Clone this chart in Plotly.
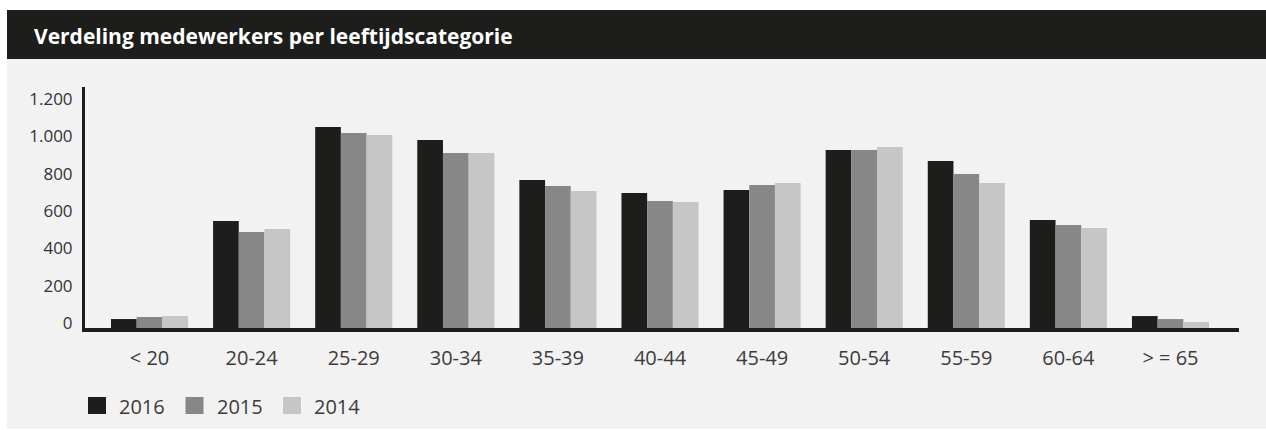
import plotly.graph_objects as go

# Age categories and headcount per year
categories = ["< 20", "20-24", "25-29", "30-34", "35-39", "40-44",
              "45-49", "50-54", "55-59", "60-64", "> = 65"]
years = ["2016", "2015", "2014"]
values_2016 = [48, 573, 1077, 1007, 793, 723, 739, 953, 894, 578, 64]
values_2015 = [59, 514, 1044, 937, 761, 680, 766, 953, 825, 552, 48]
values_2014 = [64, 530, 1034, 937, 734, 675, 777, 969, 777, 536, 32]
y_ticks = [0, 200, 400, 600, 800, 1000, 1200]

series = [values_2016, values_2015, values_2014]
colors = ["#1d1d1b", "#878787", "#c6c6c6"]

W, H = 1266, 430
ML, MR, MT, MB = 85, 27, 87, 102
PW, PH = W - ML - MR, H - MT - MB


def px_x(x):
    return (x - ML) / PW


def px_y(y):
    return (H - MB - y) / PH


fig = go.Figure()
for name, vals, col in zip(years, series, colors):
    fig.add_trace(go.Bar(x=categories, y=vals, name=name,
                         marker=dict(color=col, line=dict(width=0)),
                         showlegend=False))

shapes = [
    # light panel
    dict(type="rect", xref="paper", yref="paper", layer="below",
         x0=px_x(7), x1=px_x(1266), y0=px_y(429), y1=px_y(59),
         fillcolor="#f2f2f2", line=dict(width=0)),
    # header bar
    dict(type="rect", xref="paper", yref="paper", layer="below",
         x0=px_x(7), x1=px_x(1266), y0=px_y(59), y1=px_y(10),
         fillcolor="#1d1d1b", line=dict(width=0)),
]
annotations = [
    dict(text="<b>Verdeling medewerkers per leeftijdscategorie</b>",
         xref="paper", yref="paper", x=px_x(32), y=px_y(36),
         xanchor="left", yanchor="middle", showarrow=False,
         font=dict(family="Open Sans", size=21, color="#ffffff")),
]

# legend swatches and labels
for i, (name, col) in enumerate(zip(years, colors)):
    x0 = 88 + i * 97.5
    shapes.append(dict(type="rect", xref="paper", yref="paper",
                       x0=px_x(x0), x1=px_x(x0 + 18),
                       y0=px_y(414), y1=px_y(397),
                       fillcolor=col, line=dict(width=0)))
    annotations.append(dict(text=name, xref="paper", yref="paper",
                            x=px_x(x0 + 29), y=px_y(406),
                            xanchor="left", yanchor="middle", showarrow=False,
                            font=dict(family="Open Sans", size=20, color="#3c3c3b")))

fig.update_layout(
    width=W, height=H,
    margin=dict(l=ML, r=MR, t=MT, b=MB, pad=0),
    paper_bgcolor="#ffffff",
    plot_bgcolor="rgba(0,0,0,0)",
    barmode="group",
    bargap=0.245,
    bargroupgap=0,
    separators=",.",
    shapes=shapes,
    annotations=annotations,
    xaxis=dict(
        range=[-0.632, 10.671],
        showgrid=False, zeroline=False,
        showline=True, linecolor="#1d1d1b", linewidth=4,
        ticks="", ticklabelstandoff=9,
        tickfont=dict(family="Open Sans", size=20, color="#3c3c3b"),
    ),
    yaxis=dict(
        range=[0, 1291],
        tickvals=y_ticks, tickformat=",d",
        showgrid=False, zeroline=False,
        showline=True, linecolor="#1d1d1b", linewidth=3,
        ticks="", ticklabelstandoff=6, ticklabelshift=-5,
        tickfont=dict(family="Open Sans", size=17, color="#333333"),
    ),
)

fig.write_html("out.html")
